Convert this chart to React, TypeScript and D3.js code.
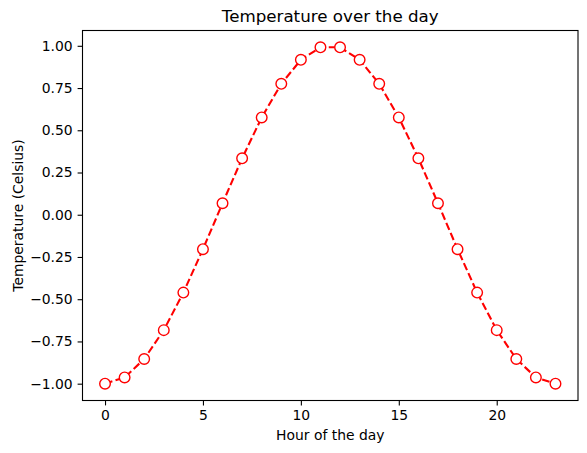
import * as d3 from "d3";
import React, { useEffect, useRef } from "react";

const hours = [0, 1, 2, 3, 4, 5, 6, 7, 8, 9, 10, 11, 12, 13, 14, 15, 16, 17, 18, 19, 20, 21, 22, 23];
const temps = [
  -1.0, -0.963, -0.854, -0.683, -0.461, -0.204, 0.068, 0.334, 0.576, 0.775, 0.917, 0.991,
  0.991, 0.917, 0.775, 0.576, 0.334, 0.068, -0.204, -0.461, -0.683, -0.854, -0.963, -1.0,
];
const xTicks = [0, 5, 10, 15, 20];
const yTicks = [-1.0, -0.75, -0.5, -0.25, 0.0, 0.25, 0.5, 0.75, 1.0];

const App = () => {
  const ref = useRef<SVGSVGElement | null>(null);

  useEffect(() => {
    const svg = d3.select(ref.current);
    svg.selectAll("*").remove();

    const width = 587;
    const height = 453;
    const margin = { top: 30.5, right: 9, bottom: 52.5, left: 82.5 };
    const font = "DejaVu Sans, sans-serif";

    svg.attr("width", width).attr("height", height);

    const w = width - margin.left - margin.right;
    const h = height - margin.top - margin.bottom;

    const xMin = d3.min(hours)!;
    const xMax = d3.max(hours)!;
    const yMin = d3.min(temps)!;
    const yMax = d3.max(temps)!;
    const xPad = (xMax - xMin) * 0.05;
    const yPad = (yMax - yMin) * 0.05;

    const x = d3.scaleLinear().domain([xMin - xPad, xMax + xPad]).range([0, w]);
    const y = d3.scaleLinear().domain([yMin - yPad, yMax + yPad]).range([h, 0]);

    const chart = svg.append("g").attr("transform", `translate(${margin.left},${margin.top})`);

    const fmt = (v: number) => d3.format(".2f")(v).replace("-", "\u2212");

    const xAxis = chart
      .append("g")
      .attr("transform", `translate(0,${h})`)
      .call(d3.axisBottom(x).tickValues(xTicks).tickSize(4.9).tickPadding(4.9).tickFormat(d3.format("d")));
    const yAxis = chart
      .append("g")
      .call(d3.axisLeft(y).tickValues(yTicks).tickSize(4.9).tickPadding(4.9).tickFormat((d) => fmt(+d)));

    [xAxis, yAxis].forEach((a) => {
      a.select(".domain").remove();
      a.selectAll("line").attr("stroke", "#000").attr("stroke-width", 1.1);
      a.selectAll("text").attr("font-family", font).attr("font-size", 13.9).attr("fill", "#000");
    });

    const line = d3
      .line<number>()
      .x((_, i) => x(hours[i]))
      .y((d) => y(d));

    chart
      .append("path")
      .datum(temps)
      .attr("fill", "none")
      .attr("stroke", "red")
      .attr("stroke-width", 2.1)
      .attr("stroke-dasharray", "7.7,3.3")
      .attr("d", line);

    chart
      .selectAll("circle")
      .data(temps)
      .enter()
      .append("circle")
      .attr("cx", (_, i) => x(hours[i]))
      .attr("cy", (d) => y(d))
      .attr("r", 5.3)
      .attr("fill", "white")
      .attr("stroke", "red")
      .attr("stroke-width", 1.4);

    chart
      .append("rect")
      .attr("width", w)
      .attr("height", h)
      .attr("fill", "none")
      .attr("stroke", "#000")
      .attr("stroke-width", 1.1);

    chart
      .append("text")
      .attr("x", w / 2)
      .attr("y", -8.5)
      .attr("text-anchor", "middle")
      .attr("font-family", font)
      .attr("font-size", 16.7)
      .text("Temperature over the day");

    chart
      .append("text")
      .attr("x", w / 2)
      .attr("y", h + 39)
      .attr("text-anchor", "middle")
      .attr("font-family", font)
      .attr("font-size", 13.9)
      .text("Hour of the day");

    chart
      .append("text")
      .attr("transform", `translate(${-60},${h / 2}) rotate(-90)`)
      .attr("text-anchor", "middle")
      .attr("font-family", font)
      .attr("font-size", 13.9)
      .text("Temperature (Celsius)");
  }, []);

  return <svg ref={ref} style={{ position: "absolute", left: 0, top: 0 }} />;
};

export default App;
